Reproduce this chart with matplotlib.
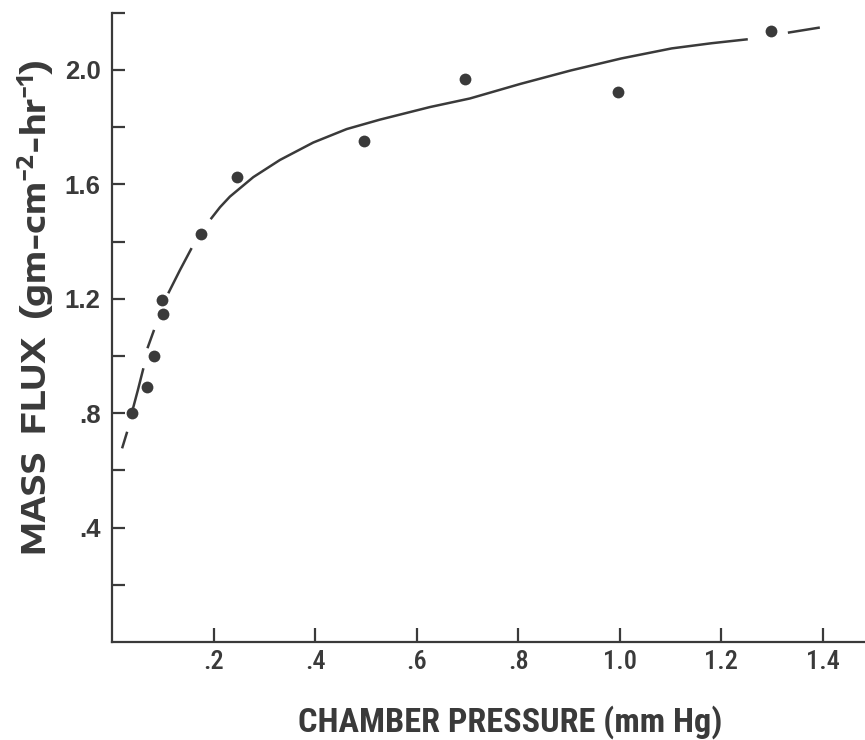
import numpy as np
import matplotlib.pyplot as plt
from matplotlib import font_manager
from matplotlib.ticker import FixedLocator

# Measured points, mass flux vs chamber pressure
pressure = [0.038, 0.069, 0.082, 0.098, 0.099, 0.174, 0.246, 0.496, 0.695, 0.996, 1.298]
flux = [0.80, 0.893, 1.00, 1.196, 1.146, 1.427, 1.627, 1.753, 1.969, 1.922, 2.137]

# Hand drawn fit curve, read as pieces (dashed at low and high pressure)
curve_pieces = [
    ([0.019, 0.029], [0.677, 0.735]),
    ([0.038, 0.050, 0.061], [0.800, 0.880, 0.957]),
    ([0.069, 0.082], [1.027, 1.091]),
    ([0.110, 0.133, 0.156], [1.219, 1.300, 1.377]),
    ([0.1935, 0.212, 0.2315, 0.2775, 0.330, 0.3957, 0.4615, 0.527, 0.6256, 0.7044,
      0.804, 0.9034, 1.003, 1.102, 1.180, 1.252],
     [1.478, 1.520, 1.557, 1.625, 1.685, 1.746, 1.793, 1.826, 1.870, 1.900,
      1.951, 1.998, 2.040, 2.075, 2.093, 2.107]),
    ([1.331, 1.394], [2.130, 2.148]),
]

xticks = [0.2, 0.4, 0.6, 0.8, 1.0, 1.2, 1.4]
xticklabels = [".2", ".4", ".6", ".8", "1.0", "1.2", "1.4"]
yticks = [0.4, 0.8, 1.2, 1.6, 2.0]
yticklabels = [".4", ".8", "1.2", "1.6", "2.0"]
yminor = [0.2, 0.6, 1.0, 1.4, 1.8, 2.2]


def pick_font(prefs):
    # first family of the list that is installed
    have = set(f.name for f in font_manager.fontManager.ttflist)
    for p in prefs:
        if p in have:
            return p
    return "DejaVu Sans"


def fit_length(fig, txt, target_px, vertical=False):
    # rescale the font so the label is as long as in the scan
    r = fig.canvas.get_renderer()
    bb = txt.get_window_extent(renderer=r)
    size = bb.height if vertical else bb.width
    txt.set_fontsize(txt.get_fontsize() * target_px / size)


cond = pick_font(["Roboto Condensed", "PT Sans Narrow", "Archivo Narrow", "Liberation Sans"])
wide = pick_font(["Encode Sans Expanded", "Encode Sans SemiExpanded", "Lexend", "DejaVu Sans"])
plain = pick_font(["Liberation Sans", "DejaVu Sans"])

ink = "#3a3a3a"
plt.rcParams["mathtext.fontset"] = "custom"
plt.rcParams["mathtext.rm"] = wide + ":bold"
plt.rcParams["mathtext.default"] = "rm"

fig = plt.figure(figsize=(8.65, 7.4), dpi=100)
ax = fig.add_axes([0.130, 0.1324, 0.870, 0.8505])

for px, fy in curve_pieces:
    ax.plot(px, fy, color=ink, lw=1.8, solid_capstyle="butt", solid_joinstyle="round")
ax.plot(pressure, flux, "o", color=ink, ms=8.5, mec="none")

ax.set_xlim(0, 1.483)
ax.set_ylim(0, 2.2)

ax.spines["top"].set_visible(False)
ax.spines["right"].set_visible(False)
for s in ["left", "bottom"]:
    ax.spines[s].set_color(ink)
    ax.spines[s].set_linewidth(1.6)

ax.xaxis.set_major_locator(FixedLocator(xticks))
ax.set_xticklabels(xticklabels, family=cond, fontweight="medium", fontsize=19, color=ink)
ax.yaxis.set_major_locator(FixedLocator(yticks))
ax.set_yticklabels(yticklabels, family=plain, fontweight="bold", fontsize=18.5, color=ink)
ax.yaxis.set_minor_locator(FixedLocator(yminor))

ax.tick_params(axis="x", direction="in", length=10, width=1.6, color=ink, pad=6)
ax.tick_params(axis="y", which="both", direction="in", length=9, width=1.6, color=ink, pad=8.5)

xl = fig.text(510 / 865, 1 - 722 / 740, "CHAMBER PRESSURE (mm Hg)", ha="center", va="center",
              family=cond, fontweight="bold", fontsize=24, color=ink)
yl = fig.text(36 / 865, 1 - 308 / 740, "MASS  FLUX  (gm-cm$^{-2}$-hr$^{-1}$)", ha="center",
              va="center", rotation=90, family=wide, fontweight="bold", fontsize=18, color=ink)
fit_length(fig, xl, 425)
fit_length(fig, yl, 497, vertical=True)

fig.savefig("out.png", dpi=100)
